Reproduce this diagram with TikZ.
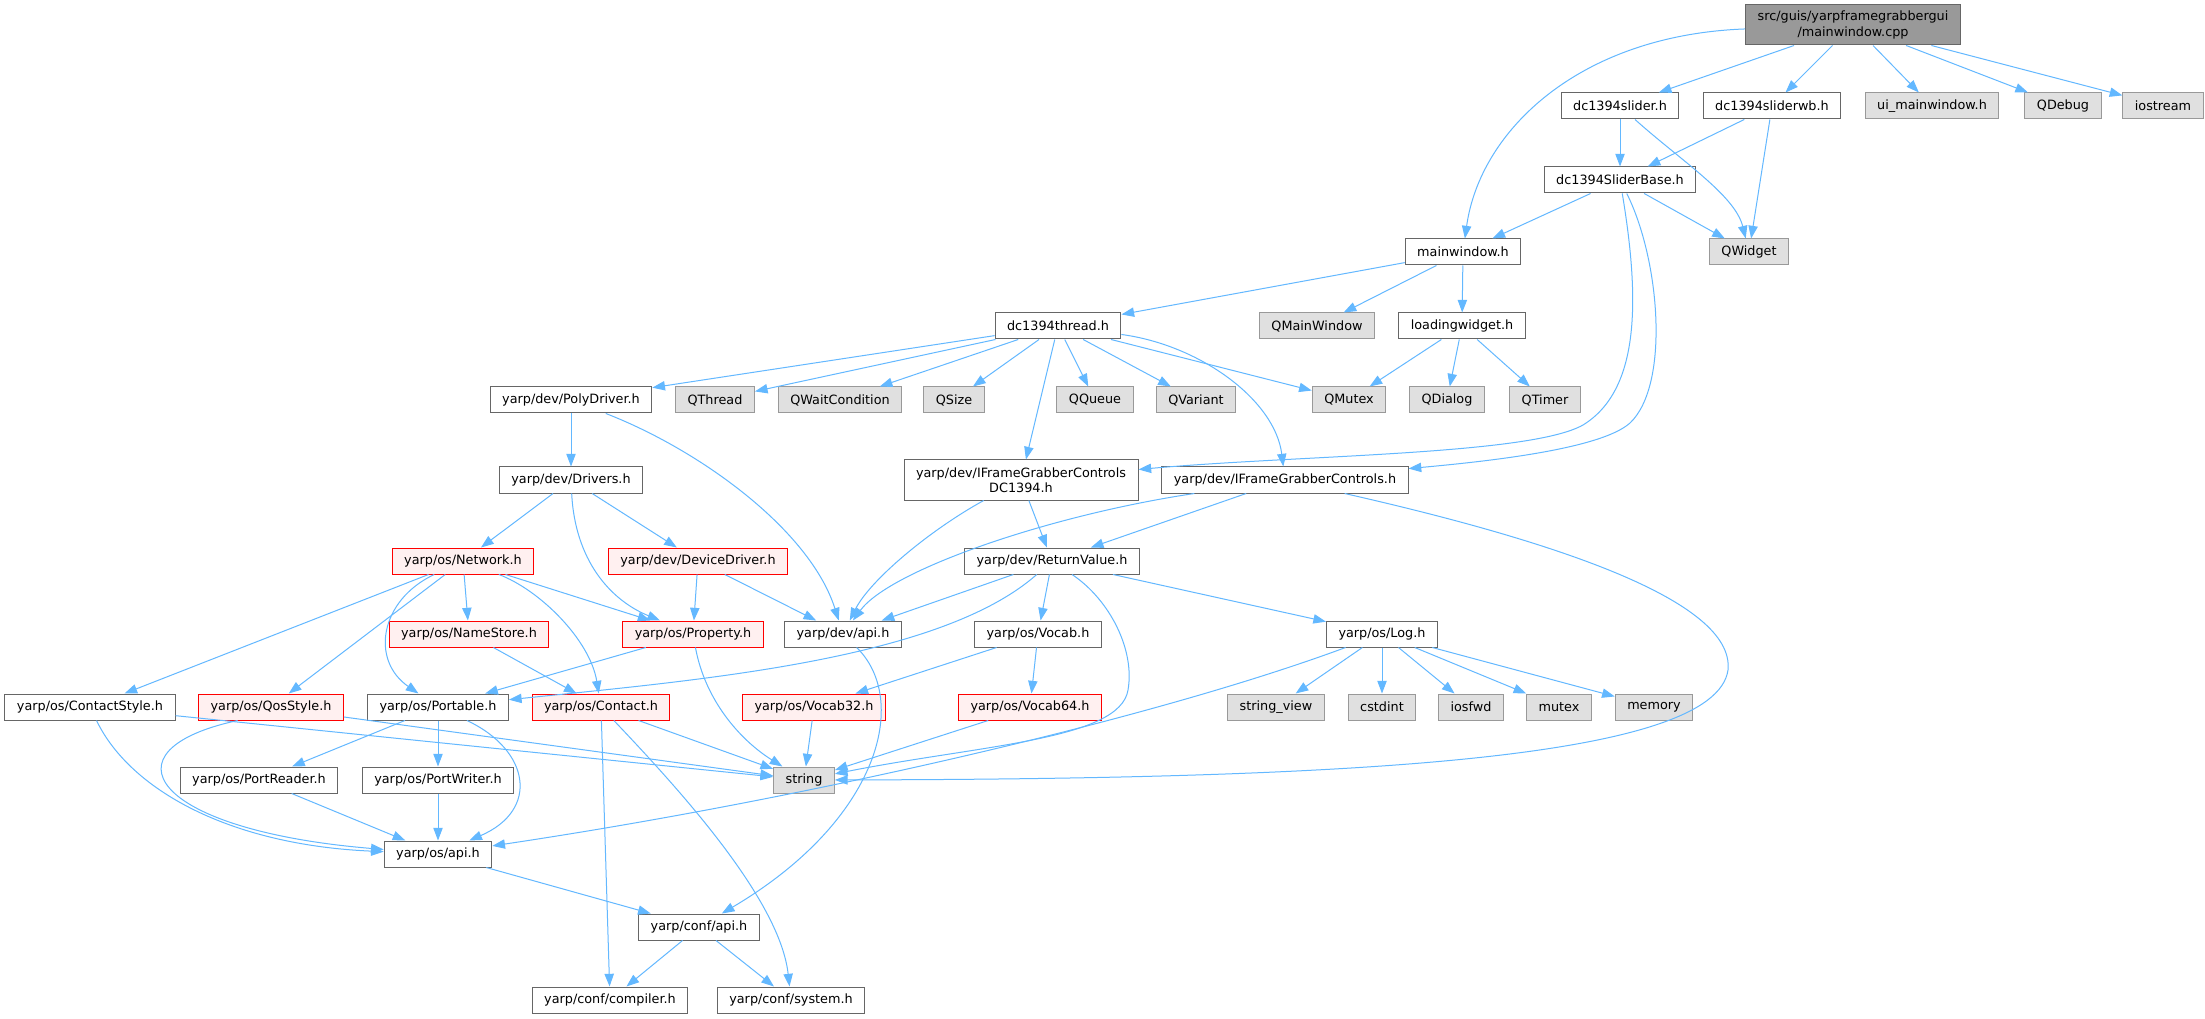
\documentclass[tikz,border=0pt]{standalone}
\usepackage{fontspec}
\setmainfont{DejaVu Sans}
\usetikzlibrary{arrows.meta}
\definecolor{depblue}{HTML}{63B8FF}
\definecolor{boxgray}{HTML}{666666}
\definecolor{sysgray}{HTML}{999999}
\definecolor{sysfill}{HTML}{E0E0E0}
\definecolor{redfill}{HTML}{FFF0F0}
\tikzset{
  hdr/.style={draw=boxgray,fill=white,line width=0.75pt,inner xsep=9pt,inner ysep=2pt,
    minimum height=19.5pt,font=\fontsize{9.6}{11.5}\selectfont,align=center},
  sys/.style={hdr,draw=sysgray,fill=sysfill},
  trunc/.style={hdr,draw=red,fill=redfill},
  root/.style={hdr,fill=sysgray,minimum height=30pt},
  dep/.style={draw=depblue,line width=0.75pt,-{Triangle[length=9.5pt,width=7pt]}}
}
\begin{document}
\begin{tikzpicture}[x=0.75pt,y=-0.75pt]
\fill[white] (0,0) rectangle (2205,1019);
\useasboundingbox (0,0) rectangle (2205,1019);
\node[root] (mainsrc) at (1853,25) {src/guis/yarpframegrabbergui\\/mainwindow.cpp};
\node[hdr] (slider) at (1620,106) {dc1394slider.h};
\node[hdr] (sliderwb) at (1772,106) {dc1394sliderwb.h};
\node[sys] (uimain) at (1932,106) {ui\_mainwindow.h};
\node[sys] (qdebug) at (2063,106) {QDebug};
\node[sys] (iostrm) at (2163,106) {iostream};
\node[hdr] (sliderbase) at (1620,180) {dc1394SliderBase.h};
\node[hdr] (mainwin) at (1463,252) {mainwindow.h};
\node[sys] (qwidget) at (1749,252) {QWidget};
\node[hdr] (thread) at (1058,326) {dc1394thread.h};
\node[sys] (qmainwin) at (1317,326) {QMainWindow};
\node[hdr] (loading) at (1462,326) {loadingwidget.h};
\node[hdr] (polydrv) at (571,400) {yarp/dev/PolyDriver.h};
\node[sys] (qthread) at (715,400) {QThread};
\node[sys] (qwait) at (840,400) {QWaitCondition};
\node[sys] (qsize) at (954,400) {QSize};
\node[sys] (qqueue) at (1095,400) {QQueue};
\node[sys] (qvariant) at (1196,400) {QVariant};
\node[sys] (qmutex) at (1349,400) {QMutex};
\node[sys] (qdialog) at (1447,400) {QDialog};
\node[sys] (qtimer) at (1545,400) {QTimer};
\node[hdr,minimum height=30pt] (ifgcdc) at (1021,480) {yarp/dev/IFrameGrabberControls\\DC1394.h};
\node[hdr] (ifgc) at (1285,480) {yarp/dev/IFrameGrabberControls.h};
\node[hdr] (drivers) at (571,480) {yarp/dev/Drivers.h};
\node[trunc] (network) at (463,561) {yarp/os/Network.h};
\node[trunc] (devdrv) at (698,561) {yarp/dev/DeviceDriver.h};
\node[hdr] (retval) at (1052,561) {yarp/dev/ReturnValue.h};
\node[trunc] (namestore) at (469,634) {yarp/os/NameStore.h};
\node[trunc] (property) at (693,634) {yarp/os/Property.h};
\node[hdr] (devapi) at (843,634) {yarp/dev/api.h};
\node[hdr] (vocab) at (1038,634) {yarp/os/Vocab.h};
\node[hdr] (log) at (1382,634) {yarp/os/Log.h};
\node[hdr] (cstyle) at (90,707) {yarp/os/ContactStyle.h};
\node[trunc] (qos) at (271,707) {yarp/os/QosStyle.h};
\node[hdr] (portable) at (438,707) {yarp/os/Portable.h};
\node[trunc] (contact) at (601,707) {yarp/os/Contact.h};
\node[trunc] (vocab32) at (814,707) {yarp/os/Vocab32.h};
\node[trunc] (vocab64) at (1030,707) {yarp/os/Vocab64.h};
\node[sys] (strview) at (1276,707) {string\_view};
\node[sys] (cstdint) at (1382,707) {cstdint};
\node[sys] (iosfwd) at (1471,707) {iosfwd};
\node[sys] (mutex) at (1559,707) {mutex};
\node[sys] (memory) at (1654,707) {memory};
\node[hdr] (preader) at (259,780) {yarp/os/PortReader.h};
\node[hdr] (pwriter) at (438,780) {yarp/os/PortWriter.h};
\node[sys] (string) at (804,780) {string};
\node[hdr] (osapi) at (438,854) {yarp/os/api.h};
\node[hdr] (confapi) at (699,927) {yarp/conf/api.h};
\node[hdr] (compiler) at (610,1000) {yarp/conf/compiler.h};
\node[hdr] (system) at (791,1000) {yarp/conf/system.h};

\draw[dep] (mainsrc) .. controls (1580,35) and (1480,130) .. (mainwin);
\draw[dep] (mainsrc) -- (slider);
\draw[dep] (mainsrc) -- (sliderwb);
\draw[dep] (mainsrc) -- (uimain);
\draw[dep] (mainsrc) -- (qdebug);
\draw[dep] (mainsrc) -- (iostrm);
\draw[dep] (slider) -- (sliderbase);
\draw[dep] (slider) .. controls (1680,160) and (1735,195) .. (qwidget);
\draw[dep] (sliderwb) -- (sliderbase);
\draw[dep] (sliderwb) -- (qwidget);
\draw[dep] (sliderbase) -- (mainwin);
\draw[dep] (sliderbase) -- (qwidget);
\draw[dep] (sliderbase) .. controls (1640,300) and (1640,390) .. (1583,425)
  .. controls (1530,455) and (1300,455) .. (ifgcdc);
\draw[dep] (sliderbase) .. controls (1660,260) and (1670,385) .. (1630,423)
  .. controls (1600,450) and (1480,462) .. (ifgc);
\draw[dep] (mainwin) -- (thread);
\draw[dep] (mainwin) -- (qmainwin);
\draw[dep] (mainwin) -- (loading);
\draw[dep] (loading) -- (qmutex);
\draw[dep] (loading) -- (qdialog);
\draw[dep] (loading) -- (qtimer);
\draw[dep] (thread) -- (polydrv);
\draw[dep] (thread) -- (qthread);
\draw[dep] (thread) -- (qwait);
\draw[dep] (thread) -- (qsize);
\draw[dep] (thread) -- (qqueue);
\draw[dep] (thread) -- (qvariant);
\draw[dep] (thread) -- (qmutex);
\draw[dep] (thread) -- (ifgcdc);
\draw[dep] (thread) .. controls (1200,345) and (1275,400) .. (ifgc);
\draw[dep] (polydrv) -- (drivers);
\draw[dep] (polydrv) .. controls (700,450) and (810,530) .. (devapi);
\draw[dep] (drivers) -- (network);
\draw[dep] (drivers) -- (devdrv);
\draw[dep] (drivers) .. controls (575,560) and (610,600) .. (property);
\draw[dep] (ifgcdc) -- (retval);
\draw[dep] (ifgcdc) .. controls (930,530) and (870,580) .. (devapi);
\draw[dep] (ifgc) -- (retval);
\draw[dep] (ifgc) .. controls (1050,515) and (890,570) .. (devapi);
\draw[dep] (ifgc) .. controls (1550,540) and (1735,600) .. (1728,670)
  .. controls (1715,760) and (1350,779) .. (string);
\draw[dep] (devdrv) -- (property);
\draw[dep] (devdrv) -- (devapi);
\draw[dep] (network) -- (cstyle);
\draw[dep] (network) -- (qos);
\draw[dep] (network) .. controls (380,600) and (370,660) .. (portable);
\draw[dep] (network) -- (namestore);
\draw[dep] (network) .. controls (540,590) and (590,640) .. (contact);
\draw[dep] (network) -- (property);
\draw[dep] (retval) -- (devapi);
\draw[dep] (retval) -- (vocab);
\draw[dep] (retval) -- (log);
\draw[dep] (retval) .. controls (940,660) and (700,680) .. (portable);
\draw[dep] (retval) .. controls (1110,600) and (1135,650) .. (1128,690)
  .. controls (1120,740) and (980,745) .. (string);
\draw[dep] (namestore) -- (contact);
\draw[dep] (property) -- (portable);
\draw[dep] (property) .. controls (705,700) and (740,740) .. (string);
\draw[dep] (devapi) .. controls (910,700) and (880,820) .. (confapi);
\draw[dep] (vocab) -- (vocab32);
\draw[dep] (vocab) -- (vocab64);
\draw[dep] (log) -- (strview);
\draw[dep] (log) -- (cstdint);
\draw[dep] (log) -- (iosfwd);
\draw[dep] (log) -- (mutex);
\draw[dep] (log) -- (memory);
\draw[dep] (log) .. controls (1150,720) and (800,800) .. (osapi);
\draw[dep] (cstyle) -- (string);
\draw[dep] (cstyle) .. controls (130,790) and (230,845) .. (osapi);
\draw[dep] (qos) -- (string);
\draw[dep] ([xshift=-25pt]qos.south) .. controls (100,750) and (150,830) .. (osapi);
\draw[dep] (portable) -- (preader);
\draw[dep] (portable) -- (pwriter);
\draw[dep] (portable) .. controls (530,750) and (540,810) .. (osapi);
\draw[dep] (contact) -- (string);
\draw[dep] (contact) -- (compiler);
\draw[dep] (contact) .. controls (680,790) and (780,900) .. (system);
\draw[dep] (vocab32) -- (string);
\draw[dep] (vocab64) -- (string);
\draw[dep] (preader) -- (osapi);
\draw[dep] (pwriter) -- (osapi);
\draw[dep] (osapi) -- (confapi);
\draw[dep] (confapi) -- (compiler);
\draw[dep] (confapi) -- (system);
\end{tikzpicture}
\end{document}
